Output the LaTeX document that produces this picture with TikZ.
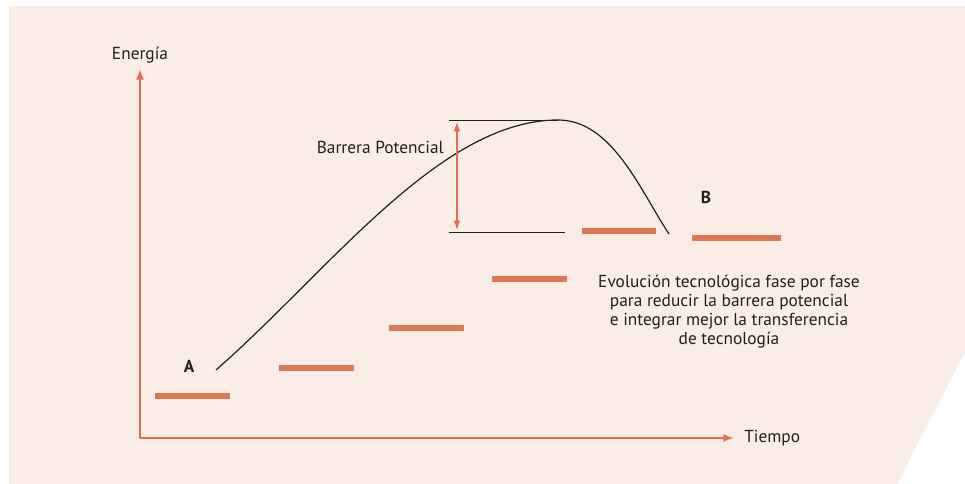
\documentclass[tikz,border=0pt]{standalone}
\usepackage{fontspec}
\setmainfont{PT Sans}
\usetikzlibrary{arrows.meta}

\definecolor{peach}{RGB}{250,237,229}
\definecolor{barorange}{RGB}{224,118,82}
\definecolor{axisorange}{RGB}{226,110,78}
\definecolor{inkdark}{RGB}{35,31,32}

\begin{document}
\begin{tikzpicture}[x=0.75pt,y=0.75pt,yscale=-1,xscale=1,
    phasebar/.style={color=barorange,line width=3.9pt},
    levelline/.style={color=inkdark,line width=0.6pt},
    axis/.style={color=axisorange,line width=1.3pt,-{Latex[length=8pt,width=6pt]}},
    lbl/.style={inner sep=0.75pt,text=inkdark,font=\fontsize{13}{14.25}\selectfont}]
    %set diagram size: 965 x 484
    \useasboundingbox (0,0) rectangle (965,484);
    %Background
    \fill [peach] (9,6) rectangle (965,484);
    \fill [white] (965,352) -- (930,420) -- (912,455) -- (898,484) -- (965,484) -- cycle;

    %Axes
    \coordinate (origin) at (140,438);
    \coordinate (ytop) at (140,69);
    \coordinate (xend) at (734,438);
    \draw [axis] (origin) -- (ytop);
    \draw [axis] (origin) -- (xend);
    % Text Node
    \node (energia) [lbl,anchor=south] at (140,64) {Energía};
    % Text Node
    \node (tiempo) [lbl,anchor=west] at (743,438) {Tiempo};

    %Phases
    \draw [phasebar] (155,396) -- (230,396);
    \draw [phasebar] (279,368) -- (354,368);
    \draw [phasebar] (389,328) -- (464,328);
    \draw [phasebar] (492,279) -- (567,279);
    \draw [phasebar] (582,231) -- (656,231);
    \draw [phasebar] (692,238) -- (781,238);

    %Curve from A to B
    \coordinate (start) at (216,370);
    \coordinate (peak) at (558,120);
    \coordinate (finish) at (669,234);
    \draw [levelline,line width=0.9pt] (start) .. controls (330,270) and (440,120) .. (peak) .. controls (612,120) and (640,190) .. (finish);

    %Barrier levels
    \coordinate (hightop) at (449,120);
    \coordinate (lowleft) at (449,232);
    \coordinate (lowright) at (565,232);
    \draw [levelline] (hightop) -- (peak);
    \draw [levelline] (lowleft) -- (lowright);
    \coordinate (bartop) at (457,122);
    \coordinate (barbot) at (457,230);
    \draw [color=axisorange,line width=0.9pt,{Latex[length=7pt,width=5pt]}-{Latex[length=7pt,width=5pt]}] (bartop) -- (barbot);
    % Text Node
    \node (barrera) [lbl,anchor=east] at (445,147) {Barrera Potencial};

    % Text Node
    \node (ptA) [lbl,font=\fontsize{13}{14}\bfseries] at (189,366) {A};
    % Text Node
    \node (ptB) [lbl,font=\fontsize{13}{14}\bfseries] at (706,197) {B};
    % Text Node
    \node (fases) [lbl,align=center,anchor=north] at (729,274) {Evolución tecnológica fase por fase\\para reducir la barrera potencial\\e integrar mejor la transferencia\\de tecnología};
\end{tikzpicture}
\end{document}
